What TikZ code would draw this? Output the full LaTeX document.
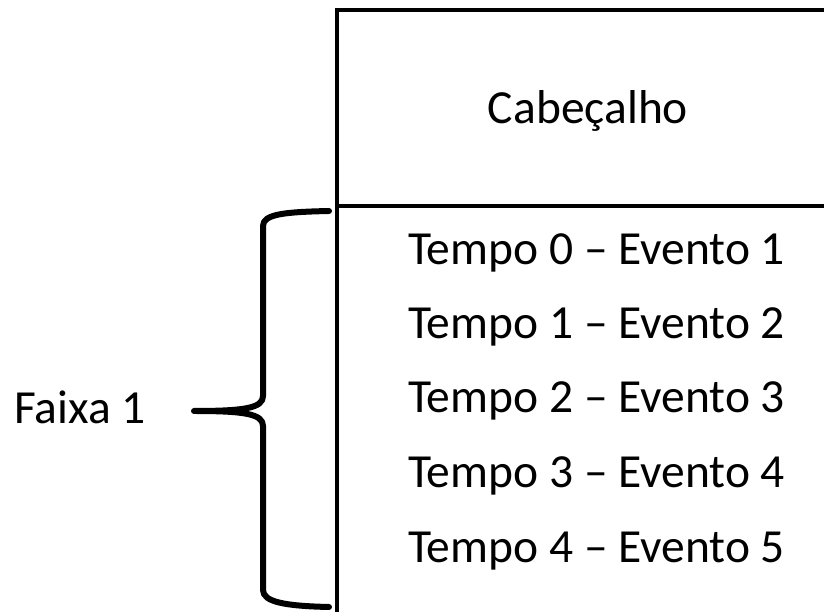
\documentclass[tikz,border=0pt]{standalone}
\usepackage{fontspec}
\setmainfont{Carlito}
\begin{document}
\begin{tikzpicture}[x=1pt,y=1pt,
  lbl/.style={anchor=base,inner sep=0pt,font=\fontsize{47.5}{57}\selectfont},
  boxline/.style={line width=4.5pt},
  braceline/.style={line width=6pt,line cap=round,line join=round}]
\useasboundingbox (0,0) rectangle (824,612);
\begin{scope}
\clip (0,0) rectangle (824,612);
\coordinate (tr) at (840,602);
\coordinate (tl) at (337,602);
\coordinate (bl) at (337,-20);
\coordinate (dl) at (337,406);
\coordinate (dr) at (840,406);
\draw[boxline] (tr) -- (tl) -- (bl);
\draw[boxline] (dl) -- (dr);
\end{scope}
\node[lbl] (head) at (588,488) {Cabeçalho};
\node[lbl] (e1) at (596.5,347) {Tempo 0 – Evento 1};
\node[lbl] (e2) at (596.5,273) {Tempo 1 – Evento 2};
\node[lbl] (e3) at (596.5,199) {Tempo 2 – Evento 3};
\node[lbl] (e4) at (596.5,124) {Tempo 3 – Evento 4};
\node[lbl] (e5) at (596.5,49) {Tempo 4 – Evento 5};
\node[lbl] (faixa) at (80,188) {Faixa 1};
\coordinate (btop) at (329,401);
\coordinate (btip) at (194,201);
\coordinate (bbot) at (329,5);
\draw[braceline] (btop) .. controls (285,400) and (263,398) .. (263,386)
  -- (263,216) .. controls (263,204) and (245,201) .. (btip)
  .. controls (245,201) and (263,198) .. (263,186)
  -- (263,22) .. controls (263,10) and (285,6) .. (bbot);
\end{tikzpicture}
\end{document}
